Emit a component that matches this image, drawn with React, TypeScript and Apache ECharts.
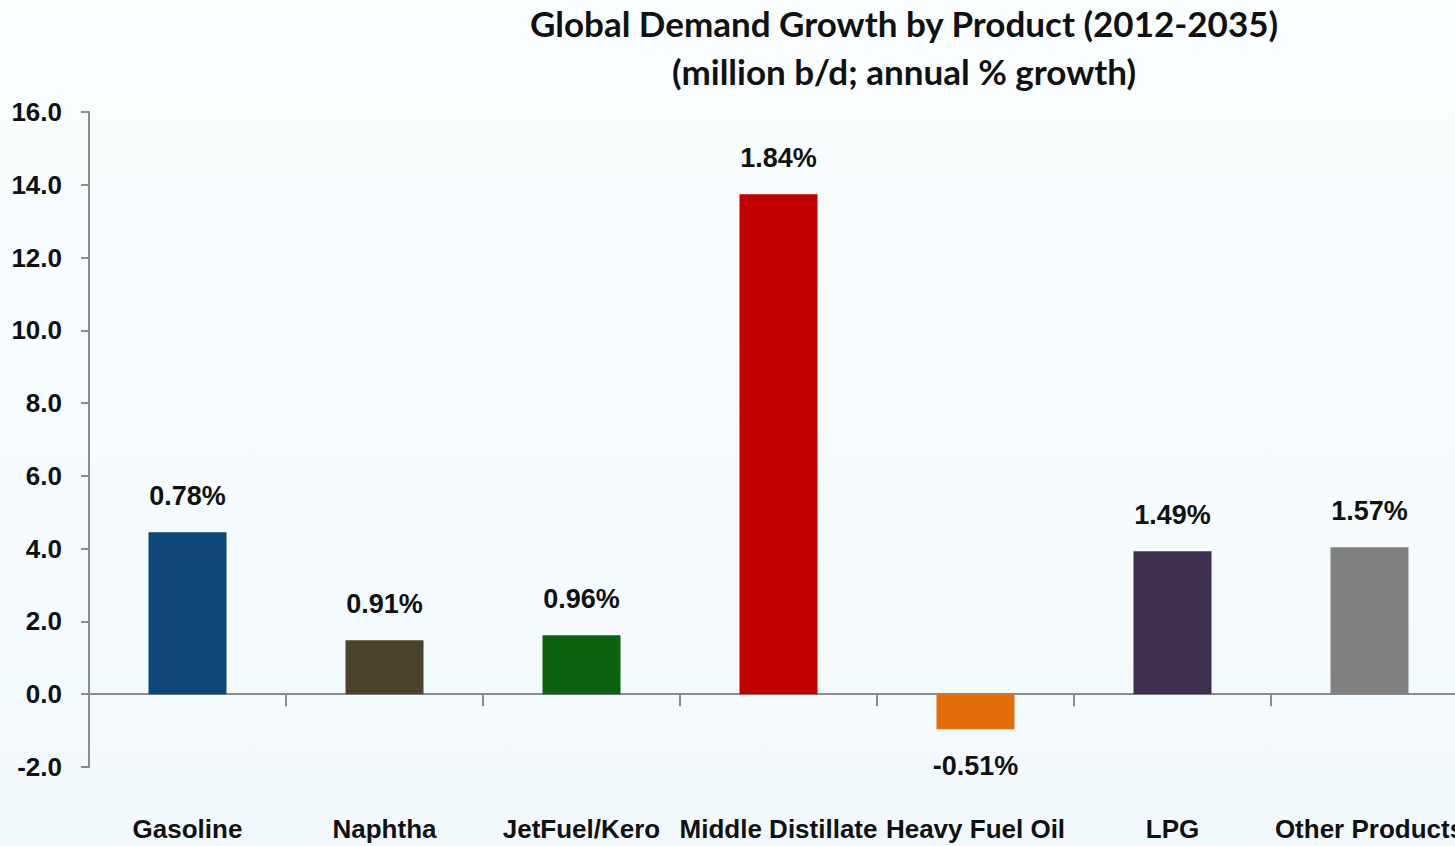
import React, { useEffect, useRef } from "react";
import * as echarts from "echarts";

const categories = ["Gasoline", "Naphtha", "JetFuel/Kero", "Middle Distillate", "Heavy Fuel Oil", "LPG", "Other Products"];
const demandGrowth = [4.45, 1.48, 1.62, 13.74, -0.96, 3.93, 4.04];
const annualGrowthLabels = ["0.78%", "0.91%", "0.96%", "1.84%", "-0.51%", "1.49%", "1.57%"];
const barColors = ["#0d4677", "#4a432c", "#0b620f", "#c00000", "#e46c0a", "#40304f", "#808080"];
const titleLines = ["Global Demand Growth by Product (2012-2035)", "(million b/d; annual % growth)"];

const NARROW = "'Liberation Sans Narrow', 'Arial Narrow', 'Liberation Sans', Arial, sans-serif";

export default function App() {
  const ref = useRef<HTMLDivElement>(null);
  useEffect(() => {
    document.body.style.margin = "0";
    const chart = echarts.init(ref.current!, null, { renderer: "svg" });
    chart.setOption({
      animation: false,
      backgroundColor: {
        type: "linear", x: 0, y: 0, x2: 0, y2: 1,
        colorStops: [
          { offset: 0, color: "#fbfeff" },
          { offset: 1, color: "#f2f9fd" },
        ],
      },
      title: {
        text: titleLines.join("\n"),
        left: 899,
        top: -6,
        textAlign: "center",
        textStyle: { fontFamily: "Lato, 'Open Sans', sans-serif", fontWeight: "bold", fontSize: 35, color: "#111", lineHeight: 48 },
      },
      grid: { left: 89, top: 112, width: 1379, height: 655, containLabel: false },
      xAxis: [
        {
          type: "category",
          data: categories,
          axisLine: { onZero: true, lineStyle: { color: "#8c8c8c", width: 2 } },
          axisTick: { show: true, length: 12, alignWithLabel: false, lineStyle: { color: "#8c8c8c", width: 2 } },
          axisLabel: { show: false },
        },
        {
          type: "category",
          data: categories,
          position: "bottom",
          axisLine: { show: false, onZero: false },
          axisTick: { show: false },
          axisLabel: {
            show: true, margin: 49, interval: 0,
            fontFamily: NARROW, fontWeight: "bold", fontSize: 26, color: "#111",
          },
        },
      ],
      yAxis: {
        type: "value",
        min: -2,
        max: 16,
        interval: 2,
        splitLine: { show: false },
        axisLine: { show: true, lineStyle: { color: "#8c8c8c", width: 2 } },
        axisTick: { show: true, length: 8, inside: false, lineStyle: { color: "#8c8c8c", width: 2 } },
        axisLabel: {
          margin: 27,
          formatter: (v: number) => v.toFixed(1),
          fontFamily: NARROW, fontWeight: "bold", fontSize: 26, color: "#111",
        },
      },
      series: [
        {
          type: "bar",
          xAxisIndex: 0,
          barWidth: 78,
          data: demandGrowth.map((v, i) => ({
            value: v,
            itemStyle: { color: barColors[i] },
            label: {
              show: true,
              position: v < 0 ? "bottom" : "top",
              distance: 23,
              formatter: annualGrowthLabels[i],
              fontFamily: NARROW, fontWeight: "bold", fontSize: 27, color: "#111",
            },
          })),
        },
      ],
    });
    return () => chart.dispose();
  }, []);
  return (
    <div style={{ width: 1455, height: 846, overflow: "hidden", position: "relative" }}>
      <div ref={ref} style={{ width: 1468, height: 846 }} />
    </div>
  );
}
